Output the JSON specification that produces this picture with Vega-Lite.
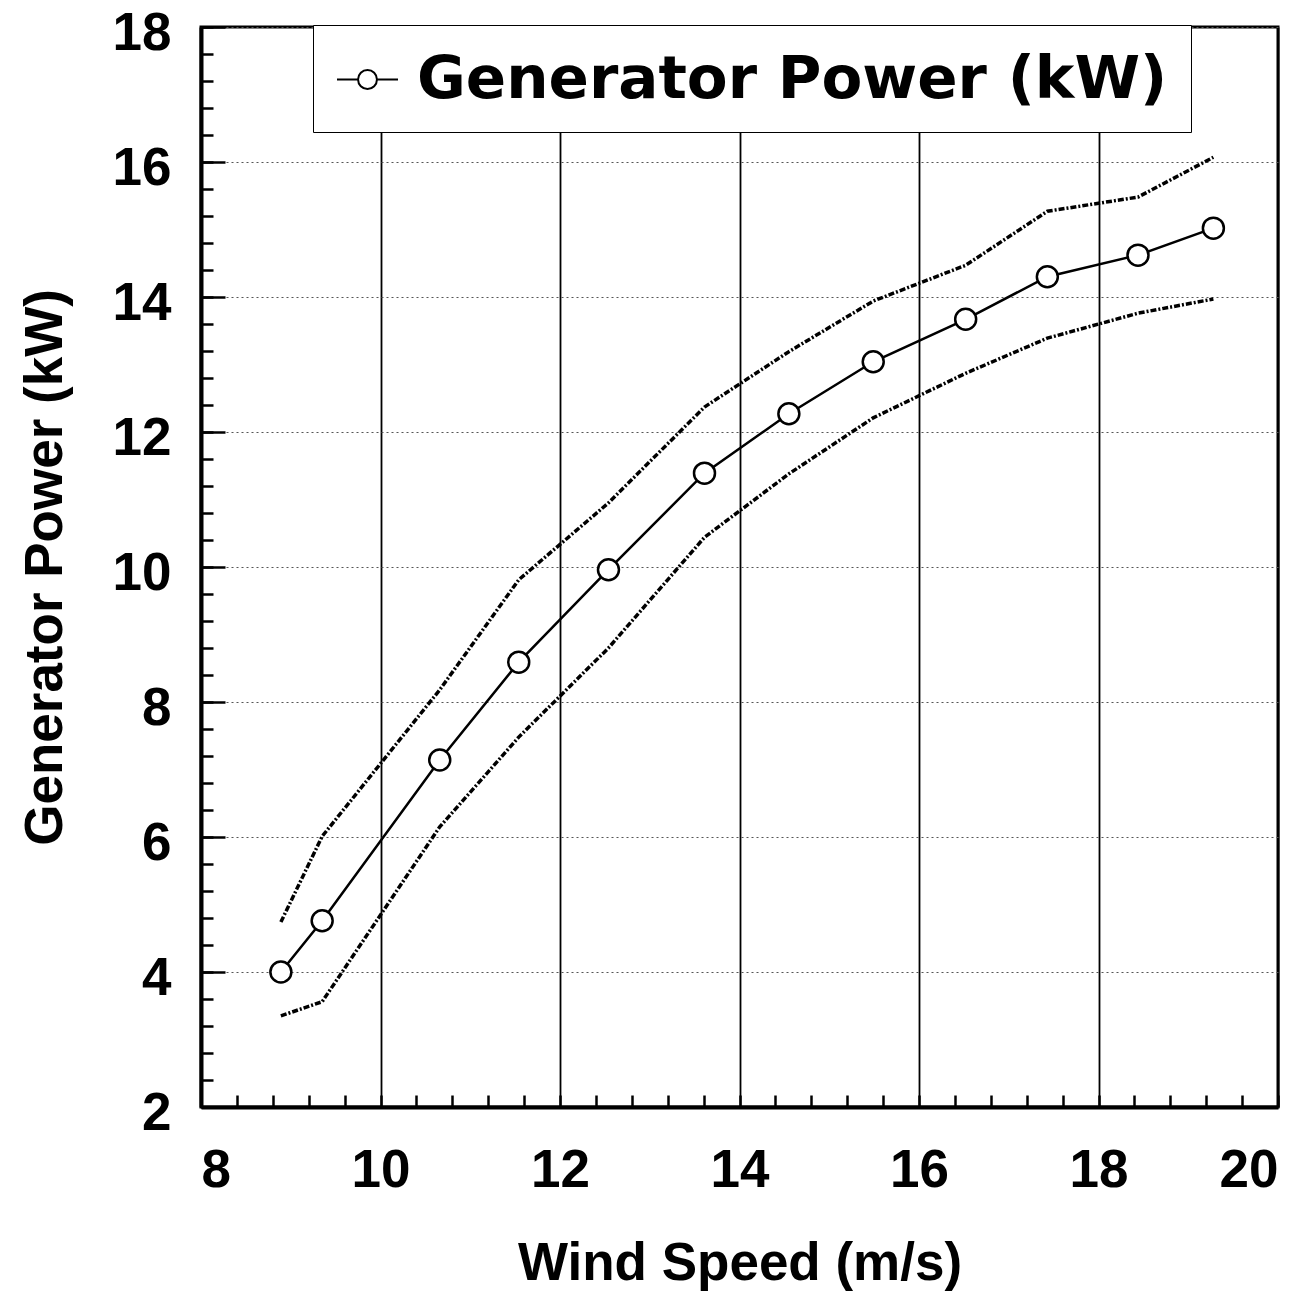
{
  "$schema": "https://vega.github.io/schema/vega-lite/v6.json",
  "width": 1077,
  "height": 1080,
  "autosize": "none",
  "padding": {"left": 201, "top": 27, "right": 37, "bottom": 186},
  "background": "white",
  "view": {"stroke": "black", "strokeWidth": 3},
  "config": {
    "axis": {
      "labelFont": "Liberation Sans",
      "labelFontSize": 53,
      "labelFontWeight": "bold",
      "labelColor": "black",
      "titleFont": "Liberation Sans",
      "titleFontSize": 53,
      "titleFontWeight": "bold",
      "titleColor": "black",
      "tickColor": "black",
      "domainColor": "black"
    }
  },
  "data": {
    "values": [
      {"x": 8.89, "mean": 4.00, "upper": 4.74, "lower": 3.35, "series": "Generator Power (kW)"},
      {"x": 9.35, "mean": 4.76, "upper": 6.01, "lower": 3.56, "series": "Generator Power (kW)"},
      {"x": 10.66, "mean": 7.14, "upper": 8.18, "lower": 6.15, "series": "Generator Power (kW)"},
      {"x": 11.54, "mean": 8.59, "upper": 9.81, "lower": 7.48, "series": "Generator Power (kW)"},
      {"x": 12.54, "mean": 9.96, "upper": 10.95, "lower": 8.80, "series": "Generator Power (kW)"},
      {"x": 13.61, "mean": 11.39, "upper": 12.37, "lower": 10.44, "series": "Generator Power (kW)"},
      {"x": 14.55, "mean": 12.27, "upper": 13.19, "lower": 11.38, "series": "Generator Power (kW)"},
      {"x": 15.49, "mean": 13.04, "upper": 13.94, "lower": 12.21, "series": "Generator Power (kW)"},
      {"x": 16.52, "mean": 13.67, "upper": 14.47, "lower": 12.87, "series": "Generator Power (kW)"},
      {"x": 17.43, "mean": 14.30, "upper": 15.27, "lower": 13.39, "series": "Generator Power (kW)"},
      {"x": 18.44, "mean": 14.62, "upper": 15.48, "lower": 13.76, "series": "Generator Power (kW)"},
      {"x": 19.28, "mean": 15.02, "upper": 16.07, "lower": 13.97, "series": "Generator Power (kW)"}
    ]
  },
  "resolve": {"axis": {"x": "independent", "y": "independent"}},
  "layer": [
    {
      "mark": {"type": "line", "color": "black", "strokeWidth": 3.5, "strokeDash": [6, 2, 2, 2]},
      "encoding": {
        "x": {
          "field": "x", "type": "quantitative",
          "scale": {"domain": [8, 20], "nice": false, "zero": false},
          "axis": {
            "orient": "bottom",
            "values": [8, 8.4, 8.8, 9.2, 9.6, 10, 10.4, 10.8, 11.2, 11.6, 12, 12.4, 12.8, 13.2, 13.6, 14, 14.4, 14.8, 15.2, 15.6, 16, 16.4, 16.8, 17.2, 17.6, 18, 18.4, 18.8, 19.2, 19.6, 20],
            "ticks": true, "tickSize": -12, "tickWidth": 2.5,
            "labels": false, "grid": false,
            "domain": true, "domainWidth": 4,
            "title": null
          }
        },
        "y": {
          "field": "upper", "type": "quantitative",
          "scale": {"domain": [2, 18], "nice": false, "zero": false},
          "axis": {
            "orient": "left",
            "values": [2, 2.4, 2.8, 3.2, 3.6, 4, 4.4, 4.8, 5.2, 5.6, 6, 6.4, 6.8, 7.2, 7.6, 8, 8.4, 8.8, 9.2, 9.6, 10, 10.4, 10.8, 11.2, 11.6, 12, 12.4, 12.8, 13.2, 13.6, 14, 14.4, 14.8, 15.2, 15.6, 16, 16.4, 16.8, 17.2, 17.6, 18],
            "ticks": true, "tickSize": -12, "tickWidth": 2.5,
            "labels": false, "grid": false,
            "domain": true, "domainWidth": 4,
            "title": null
          }
        }
      }
    },
    {
      "mark": {"type": "line", "color": "black", "strokeWidth": 3.5, "strokeDash": [6, 2, 2, 2]},
      "encoding": {
        "x": {
          "field": "x", "type": "quantitative",
          "axis": {
            "orient": "bottom",
            "values": [8, 10, 12, 14, 16, 18, 20],
            "ticks": false, "domain": false,
            "labels": true, "labelPadding": 79, "labelBaseline": "alphabetic",
            "grid": true, "gridColor": "black", "gridWidth": 1.8, "gridOpacity": 1,
            "title": "Wind Speed (m/s)",
            "titleBaseline": "alphabetic", "titleY": 172
          }
        },
        "y": {
          "field": "lower", "type": "quantitative",
          "axis": {
            "orient": "left",
            "values": [2, 4, 6, 8, 10, 12, 14, 16, 18],
            "ticks": false, "domain": false,
            "labels": true, "labelPadding": 30, "labelBaseline": "alphabetic", "labelOffset": 22,
            "grid": true, "gridColor": "#555555", "gridWidth": 1, "gridDash": [2, 3], "gridOpacity": 1,
            "title": "Generator Power (kW)",
            "titleBaseline": "alphabetic", "titleX": -140
          }
        }
      }
    },
    {
      "mark": {"type": "line", "color": "black", "strokeWidth": 2.5},
      "encoding": {
        "x": {"field": "x", "type": "quantitative", "axis": null},
        "y": {
          "field": "mean", "type": "quantitative",
          "axis": {
            "orient": "left",
            "values": [2, 4, 6, 8, 10, 12, 14, 16, 18],
            "ticks": true, "tickSize": -24, "tickWidth": 2.5,
            "labels": false, "grid": false, "domain": false,
            "title": null
          }
        }
      }
    },
    {
      "mark": {"type": "point", "shape": "circle", "filled": false, "fill": "white", "fillOpacity": 1, "strokeWidth": 2.5, "size": 440, "opacity": 1},
      "encoding": {
        "x": {"field": "x", "type": "quantitative", "axis": null},
        "y": {"field": "mean", "type": "quantitative", "axis": null},
        "stroke": {
          "field": "series", "type": "nominal",
          "scale": {"range": ["black"]},
          "legend": {
            "orient": "none",
            "legendX": 112,
            "legendY": -2,
            "title": null,
            "padding": 23,
            "fillColor": "white",
            "strokeColor": "black",
            "symbolType": "M-1,0H-0.31M0.31,0H1M0.31,0A0.31,0.31,0,1,1,-0.31,0A0.31,0.31,0,1,1,0.31,0Z",
            "symbolSize": 3721,
            "symbolStrokeColor": "black",
            "symbolFillColor": "white",
            "symbolStrokeWidth": 2,
            "symbolOpacity": 1,
            "labelOffset": 18,
            "labelFont": "DejaVu Sans",
            "labelFontWeight": "bold",
            "labelFontSize": 59.5,
            "labelColor": "black",
            "labelLimit": 2000,
            "encode": {"legend": {"update": {"strokeWidth": {"value": 3}}}}
          }
        }
      }
    }
  ]
}
